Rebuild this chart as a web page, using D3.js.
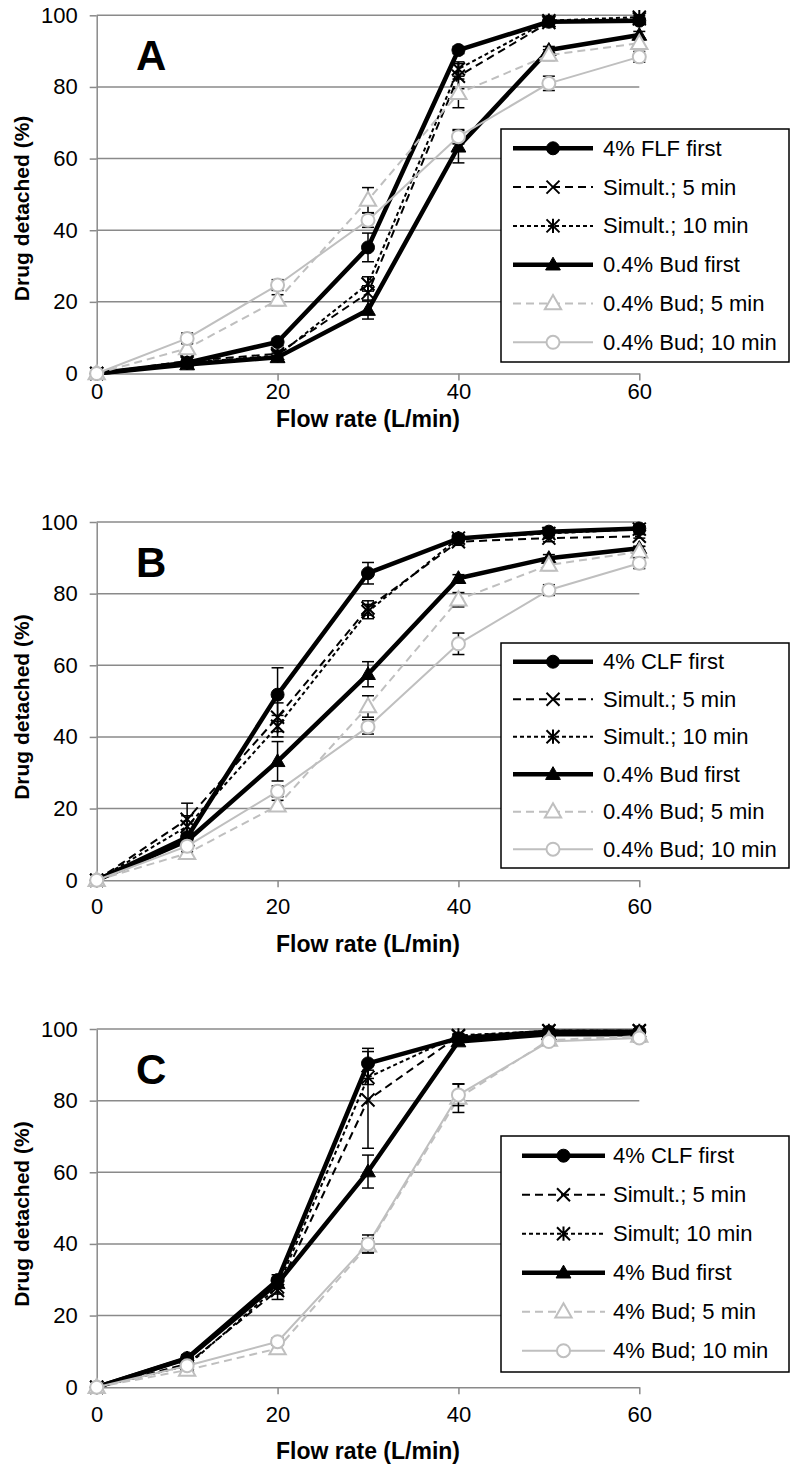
<!DOCTYPE html>
<html><head><meta charset="utf-8">
<script src="https://cdn.jsdelivr.net/npm/d3@7"></script>
<style>html,body{margin:0;padding:0;background:#fff;}svg{display:block;}</style>
</head><body>
<script>
// ---------- DATA ----------
const flowRates = [0, 10, 20, 30, 40, 50, 60];
const xTicks = [0, 20, 40, 60];
const yTicks = [0, 20, 40, 60, 80, 100];
const panelLabels = ["A", "B", "C"];
const xTitle = "Flow rate (L/min)";
const yTitle = "Drug detached (%)";

const namesA = ["4% FLF first", "Simult.; 5 min", "Simult.; 10 min", "0.4% Bud first", "0.4% Bud; 5 min", "0.4% Bud; 10 min"];
const namesB = ["4% CLF first", "Simult.; 5 min", "Simult.; 10 min", "0.4% Bud first", "0.4% Bud; 5 min", "0.4% Bud; 10 min"];
const namesC = ["4% CLF first", "Simult.; 5 min", "Simult; 10 min", "4% Bud first", "4% Bud; 5 min", "4% Bud; 10 min"];

// Panel A values
const aFirst   = [0, 3.0, 8.8, 35.2, 90.3, 98.2, 98.5];
const aSim5    = [0, 3.5, 5.5, 22.5, 83.0, 98.0, 99.0];
const aSim10   = [0, 3.0, 5.0, 25.0, 85.0, 98.5, 99.5];
const aBud     = [0, 2.5, 4.5, 17.7, 63.3, 90.3, 94.5];
const aBud5    = [0, 7.0, 20.5, 48.4, 78.2, 88.9, 92.2];
const aBud10   = [0, 9.8, 24.7, 42.8, 66.1, 81.0, 88.4];
// Panel A errors
const aFirstErr = [0, 0.5, 1, 4, 1, 0.5, 0.5];
const aSim5Err  = [0, 0.5, 1, 2, 3.5, 0.5, 0.5];
const aSim10Err = [0, 0.5, 1, 2, 2, 0.5, 0.5];
const aBudErr   = [0, 0.5, 1, 2.5, 4.5, 1, 1];
const aBud5Err  = [0, 1.5, 1.5, 3.5, 4, 1.5, 1.5];
const aBud10Err = [0, 1.5, 1.5, 2, 2, 2, 1.5];

// Panel B values
const bFirst   = [0, 12.0, 51.8, 85.7, 95.4, 97.3, 98.2];
const bSim5    = [0, 17.0, 45.5, 76.0, 94.5, 95.5, 96.0];
const bSim10   = [0, 15.0, 43.0, 75.0, 95.5, 96.8, 98.0];
const bBud     = [0, 11.0, 33.2, 57.5, 84.3, 89.9, 92.7];
const bBud5    = [0, 7.5, 20.8, 48.5, 78.3, 88.0, 91.7];
const bBud10   = [0, 9.5, 24.8, 42.8, 66.0, 81.0, 88.5];
// Panel B errors
const bFirstErr = [0, 1, 7.5, 3, 1, 1, 0.8];
const bSim5Err  = [0, 4.5, 4, 2, 1, 1, 0.5];
const bSim10Err = [0, 3, 3, 2, 1, 1, 1];
const bBudErr   = [0, 1, 5.5, 3.5, 1, 1, 0.5];
const bBud5Err  = [0, 1.5, 1.5, 3, 2, 1.5, 1.5];
const bBud10Err = [0, 1.5, 1.5, 2, 3, 1.5, 1.5];

// Panel C values
const cFirst   = [0, 8.1, 29.9, 90.4, 97.4, 99.2, 99.2];
const cSim5    = [0, 6.5, 27.0, 80.2, 98.0, 99.5, 99.5];
const cSim10   = [0, 6.0, 28.0, 86.5, 98.2, 99.5, 99.5];
const cBud     = [0, 8.0, 29.0, 60.2, 96.5, 98.5, 98.5];
const cBud5    = [0, 4.8, 10.8, 39.5, 80.7, 96.9, 98.0];
const cBud10   = [0, 6.0, 12.7, 40.0, 81.6, 96.5, 97.5];
// Panel C errors
const cFirstErr = [0, 1, 1.5, 4.2, 1, 0.5, 0.5];
const cSim5Err  = [0, 1, 2.5, 13.5, 0.5, 0.5, 0.5];
const cSim10Err = [0, 1, 2, 2, 0.5, 0.5, 0.5];
const cBudErr   = [0, 1, 1, 4.6, 1, 0.5, 0.5];
const cBud5Err  = [0, 1, 1, 2, 4, 1, 1];
const cBud10Err = [0, 1, 1, 2.5, 3, 1, 1];

// ---------- BUILD ----------
const panels = [
  { label: panelLabels[0], names: namesA, values: [aFirst, aSim5, aSim10, aBud, aBud5, aBud10],
    errs: [aFirstErr, aSim5Err, aSim10Err, aBudErr, aBud5Err, aBud10Err] },
  { label: panelLabels[1], names: namesB, values: [bFirst, bSim5, bSim10, bBud, bBud5, bBud10],
    errs: [bFirstErr, bSim5Err, bSim10Err, bBudErr, bBud5Err, bBud10Err] },
  { label: panelLabels[2], names: namesC, values: [cFirst, cSim5, cSim10, cBud, cBud5, cBud10],
    errs: [cFirstErr, cSim5Err, cSim10Err, cBudErr, cBud5Err, cBud10Err] }
];

// layout
const W = 797, H = 1472;
const plotLeft = 96.7, plotRight = 639.3, plotH = 358.2;
const panelTops = [15.3, 522, 1029];
const tickOffsets = [18, 26, 27];
const titleOffsets = [45, 64, 64];
const yTitleShift = [14, 6, 6];
const legendLayouts = [
  { x0: 501, x1: 789, y0: 129, y1: 362, firstRow: 148.3, step: 38.8, lx0: 513, lx1: 593, tx: 603 },
  { x0: 501, x1: 789, y0: 643, y1: 868, firstRow: 661.7, step: 37.5, lx0: 513, lx1: 593, tx: 603 },
  { x0: 501, x1: 789, y0: 1136, y1: 1372, firstRow: 1155.7, step: 39.0, lx0: 522, lx1: 605, tx: 613 }
];

const BLACK = "#000", GRAY = "#bfbfbf", GRID = "#8a8a8a";
const FONT = "'Liberation Sans', Arial, sans-serif";

const styles = [
  { color: BLACK, width: 4.5, dash: null, marker: "circle", fill: BLACK },
  { color: BLACK, width: 2, dash: "8,5", marker: "x", fill: "none" },
  { color: BLACK, width: 2, dash: "4,3", marker: "star", fill: "none" },
  { color: BLACK, width: 4.5, dash: null, marker: "triangle", fill: BLACK },
  { color: GRAY, width: 2, dash: "8,5", marker: "triangle", fill: "#fff" },
  { color: GRAY, width: 2, dash: null, marker: "circle", fill: "#fff" }
];

const svg = d3.select("body").append("svg").attr("width", W).attr("height", H)
  .style("font-family", FONT);

function drawMarker(g, st, cx, cy) {
  if (st.marker === "circle") {
    g.append("circle").attr("cx", cx).attr("cy", cy).attr("r", 6.5)
      .attr("fill", st.fill).attr("stroke", st.color).attr("stroke-width", st.fill === BLACK ? 1 : 2);
  } else if (st.marker === "triangle") {
    const sym = d3.symbol().type(d3.symbolTriangle).size(st.fill === BLACK ? 95 : 115);
    g.append("path").attr("d", sym()).attr("transform", `translate(${cx},${cy + 1})`)
      .attr("fill", st.fill).attr("stroke", st.color).attr("stroke-width", st.fill === BLACK ? 1 : 2);
  } else {
    const r = 6.5;
    const p = d3.path();
    p.moveTo(cx - r, cy - r); p.lineTo(cx + r, cy + r);
    p.moveTo(cx - r, cy + r); p.lineTo(cx + r, cy - r);
    if (st.marker === "star") { p.moveTo(cx, cy - r * 1.1); p.lineTo(cx, cy + r * 1.1); }
    g.append("path").attr("d", p.toString()).attr("stroke", st.color).attr("stroke-width", 2).attr("fill", "none");
  }
}

panels.forEach((pn, pi) => {
  const top = panelTops[pi];
  const bottom = top + plotH;
  const x = d3.scaleLinear().domain([0, 60]).range([plotLeft, plotRight]);
  const y = d3.scaleLinear().domain([0, 100]).range([bottom, top]);
  const g = svg.append("g");

  // gridlines
  g.append("g").selectAll("line").data(yTicks.filter(t => t > 0)).join("line")
    .attr("x1", plotLeft).attr("x2", plotRight)
    .attr("y1", d => y(d)).attr("y2", d => y(d))
    .attr("stroke", GRID).attr("stroke-width", 1.5);

  // y axis
  const yAx = g.append("g").attr("transform", `translate(${plotLeft},0)`)
    .call(d3.axisLeft(y).tickValues(yTicks).tickSize(7).tickSizeOuter(0).tickPadding(12));
  yAx.select(".domain").attr("stroke", GRID).attr("stroke-width", 1.5);
  yAx.selectAll(".tick line").attr("stroke", GRID).attr("stroke-width", 1.5);
  yAx.selectAll("text").attr("font-size", 22).attr("font-family", FONT).attr("fill", "#000");

  // x axis
  const xAx = g.append("g").attr("transform", `translate(0,${bottom})`)
    .call(d3.axisBottom(x).tickValues(xTicks).tickSize(7).tickSizeOuter(0));
  xAx.select(".domain").attr("stroke", GRID).attr("stroke-width", 1.5);
  xAx.selectAll(".tick line").attr("stroke", GRID).attr("stroke-width", 1.5);
  xAx.selectAll("text").attr("font-size", 22).attr("font-family", FONT).attr("fill", "#000")
    .attr("y", tickOffsets[pi]).attr("dy", null).attr("dominant-baseline", "central");

  // axis titles
  g.append("text").attr("x", (plotLeft + plotRight) / 2).attr("y", bottom + titleOffsets[pi])
    .attr("text-anchor", "middle").attr("dominant-baseline", "central")
    .attr("font-size", 23).attr("font-weight", "bold").text(xTitle);
  g.append("text").attr("transform", `translate(21,${(top + bottom) / 2 + yTitleShift[pi]}) rotate(-90)`)
    .attr("text-anchor", "middle").attr("dominant-baseline", "central")
    .attr("font-size", 21).attr("font-weight", "bold").text(yTitle);

  // panel letter
  g.append("text").attr("x", 136).attr("y", top + 54.5).attr("font-size", 42)
    .attr("font-weight", "bold").text(pn.label);

  // series
  const line = d3.line().x((d, i) => x(flowRates[i])).y(d => y(d));
  pn.values.forEach((vals, si) => {
    const st = styles[si];
    const sg = g.append("g");
    sg.append("path").attr("d", line(vals)).attr("fill", "none")
      .attr("stroke", st.color).attr("stroke-width", st.width)
      .attr("stroke-dasharray", st.dash).attr("stroke-linejoin", "round");
    vals.forEach((v, i) => {
      const e = pn.errs[si][i];
      if (!e) return;
      const cx = x(flowRates[i]);
      sg.append("line").attr("x1", cx).attr("x2", cx).attr("y1", y(v - e)).attr("y2", y(v + e))
        .attr("stroke", BLACK).attr("stroke-width", 1.5);
      [v - e, v + e].forEach(t => sg.append("line").attr("x1", cx - 6).attr("x2", cx + 6)
        .attr("y1", y(t)).attr("y2", y(t)).attr("stroke", BLACK).attr("stroke-width", 1.5));
    });
    vals.forEach((v, i) => drawMarker(sg, st, x(flowRates[i]), y(v)));
  });

  // legend
  const L = legendLayouts[pi];
  const lg = g.append("g");
  lg.append("rect").attr("x", L.x0).attr("y", L.y0).attr("width", L.x1 - L.x0).attr("height", L.y1 - L.y0)
    .attr("fill", "#fff").attr("stroke", "#000").attr("stroke-width", 1.5);
  pn.names.forEach((nm, si) => {
    const st = styles[si];
    const ry = L.firstRow + si * L.step;
    lg.append("line").attr("x1", L.lx0).attr("x2", L.lx1).attr("y1", ry).attr("y2", ry)
      .attr("stroke", st.color).attr("stroke-width", st.width).attr("stroke-dasharray", st.dash);
    drawMarker(lg, st, (L.lx0 + L.lx1) / 2, ry);
    lg.append("text").attr("x", L.tx).attr("y", ry).attr("dominant-baseline", "central")
      .attr("font-size", 22).text(nm);
  });
});
</script>
</body></html>
